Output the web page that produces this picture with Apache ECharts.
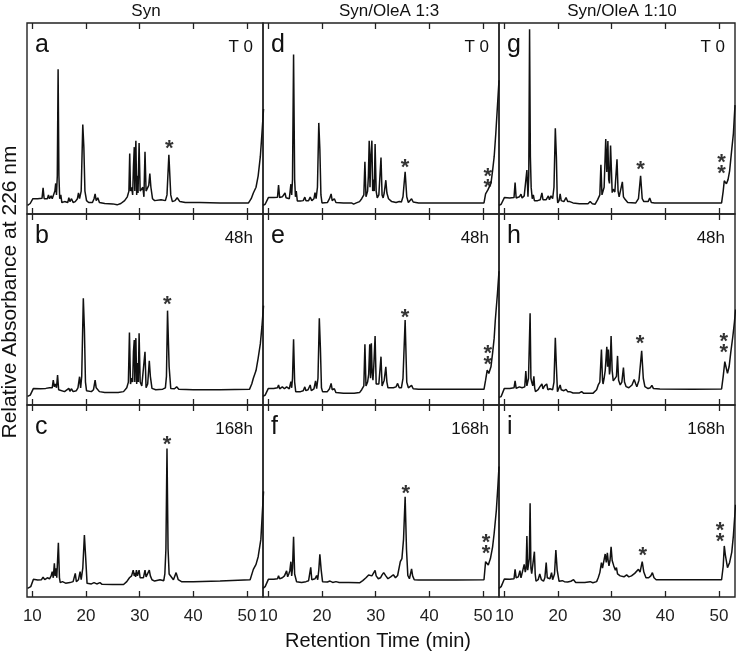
<!DOCTYPE html>
<html>
<head>
<meta charset="utf-8">
<title>Chromatograms</title>
<script src="https://cdn.jsdelivr.net/npm/echarts@6/dist/echarts.min.js"></script>
<style>
  html, body { margin: 0; padding: 0; background: #fff; }
  #main { width: 736px; height: 655px; }
</style>
</head>
<body>
<div id="main"></div>
<script>
// retention time (min) vs relative absorbance (% of panel height)
const traceA = [[9.1,4.5],[9.6,5.5],[10.1,8],[11,8],[11.8,8.2],[12.0,13.7],[12.2,8],[12.8,8],[13.0,10],[13.2,8],[13.5,9.5],[13.7,8],[14.0,9],[14.2,12],[14.35,16],[14.5,10],[14.65,20],[14.8,75.8],[14.95,20],[15.1,8],[15.3,10],[15.5,6],[16.0,6.5],[16.6,6],[16.8,8.5],[17.0,6.5],[17.3,8],[17.6,6],[18.0,6.5],[18.4,8],[18.6,11],[18.8,8],[19.1,12],[19.4,46.8],[19.6,35],[19.8,12],[20.1,7],[20.5,6],[21.2,6],[21.5,8],[21.7,10.5],[21.9,7],[22.2,8.5],[22.5,6],[23.5,5.5],[25,5.3],[25.8,4.8],[26.5,5.5],[27.2,7],[27.7,9],[28.0,12],[28.15,31.7],[28.3,12],[28.5,14],[28.7,10],[28.85,25],[29.0,35],[29.1,12],[29.2,30],[29.3,38.4],[29.45,10],[29.55,20],[29.7,11],[29.9,37.2],[30.1,12],[30.3,11],[30.6,14],[30.8,9],[31.0,32.6],[31.2,12],[31.5,11],[31.7,15],[31.9,21.2],[32.1,14],[32.4,8],[32.8,7],[34.0,7.5],[34.8,7],[35.1,10],[35.45,31],[35.8,10],[36.1,6.5],[36.6,7],[37.0,8.5],[37.2,9],[37.5,6.5],[38.5,6],[40.5,6],[40.8,6.5],[41.2,6],[45,5.8],[50.3,5.8],[50.8,8],[51.2,11],[51.7,14],[52.1,20],[52.5,30],[52.8,42],[53.1,55]];
const traceB = [[9.1,4.5],[9.6,5.2],[10.2,8.7],[11.5,8.5],[12.5,8.7],[13.2,9],[13.5,10],[13.7,9],[13.9,13],[14.1,9.5],[14.3,11],[14.5,9],[14.7,15.7],[14.9,8],[15.2,7],[16.0,7],[16.8,8.7],[17.0,7.2],[17.3,8.5],[17.6,7],[18.2,7.5],[18.5,9],[18.8,14.8],[19.0,9],[19.2,15],[19.5,55.9],[19.7,40],[19.9,12],[20.1,7.5],[21.0,7],[21.4,8],[21.7,13],[21.9,9],[22.2,10],[22.5,7],[23.5,6.6],[26,6.6],[27,7],[27.6,9],[27.9,12],[28.1,37.9],[28.3,11],[28.5,14],[28.7,12],[28.85,28],[29.0,34],[29.1,12],[29.2,30],[29.3,35],[29.45,11],[29.6,22],[29.75,12],[29.9,37.5],[30.1,12],[30.4,10],[30.7,11],[31.0,27.9],[31.2,9],[31.5,11],[31.8,23.2],[32.0,15],[32.3,8.7],[33,8],[34.3,8.3],[34.8,9],[35.0,15],[35.2,49.4],[35.5,20],[35.8,8.7],[36.5,8.5],[36.9,9.5],[37.3,8.2],[40,8],[45,8],[50.5,8.3],[50.9,11],[51.2,14],[51.7,18],[52.1,24.6],[52.5,32],[52.8,41],[53.1,52]];
const traceC = [[9.1,4.5],[9.7,5.4],[10.2,9.2],[11.0,8.9],[11.7,9],[12.0,10.4],[12.3,9],[12.8,10],[13.2,9.5],[13.5,11],[13.7,13.2],[13.9,10],[14.1,17.5],[14.25,11],[14.4,15],[14.55,10],[14.85,28.3],[15.05,10],[15.2,7.5],[15.6,8],[16.2,7.2],[17.0,7.5],[17.6,8],[18.0,12.3],[18.2,8],[18.4,8],[18.6,9],[18.9,13.2],[19.1,9],[19.4,15],[19.7,32.3],[19.95,20],[20.2,7.1],[21.0,6.8],[21.5,7.5],[22.0,6.8],[22.6,7.5],[23.0,6.6],[25,6.5],[27,6.5],[27.6,8],[28.1,10],[28.5,11],[28.8,14],[29.0,11],[29.1,12.5],[29.25,10.5],[29.4,14],[29.6,11],[29.9,14],[30.1,10],[30.3,9],[30.7,10],[31.0,14],[31.2,10.5],[31.5,11],[31.8,14],[32.0,11],[32.3,9],[32.8,8.3],[33.8,9],[34.5,8.5],[34.7,12],[34.9,25],[35.1,77.4],[35.3,25],[35.5,12],[35.8,11],[36.3,9],[36.8,12.7],[37.2,9],[37.8,8],[40,8],[45,8.3],[50.6,9],[51.2,14.4],[51.7,17],[52.1,21],[52.6,30],[52.9,45],[53.1,55]];
const traceD = [[9.0,4.5],[9.4,5.1],[10.0,8.6],[11.0,8.6],[11.7,8.8],[11.9,15.1],[12.1,8.6],[12.6,9],[13.1,11],[13.3,8.5],[13.6,9.5],[13.9,8],[14.2,15.6],[14.35,10],[14.5,18],[14.7,83.5],[14.9,18],[15.05,9],[15.2,12],[15.4,6.8],[16.0,6.8],[16.5,7],[16.8,8.8],[17.0,7],[17.5,7],[17.8,8.8],[18.1,7],[18.5,8],[18.7,11.2],[18.9,8],[19.15,14],[19.4,47.7],[19.6,34],[19.8,10],[20.0,5.8],[21.0,6],[21.4,8],[21.7,10.5],[21.9,7],[22.3,8],[22.6,6],[24,5.8],[25.5,5.8],[25.9,5.2],[26.4,5.8],[27.0,6.5],[27.4,8],[27.8,10],[28.0,27.4],[28.2,9],[28.5,12],[28.65,20],[28.8,38.4],[28.95,14],[29.1,30],[29.3,38.4],[29.45,12],[29.6,18],[29.75,12],[29.9,36.7],[30.1,12],[30.3,8.5],[30.6,10],[31.0,29.6],[31.2,10],[31.4,8.4],[31.6,11],[31.9,17.7],[32.1,11],[32.4,8],[33,6.5],[33.8,6],[34.4,6.5],[34.8,6.3],[35.1,9],[35.5,22.1],[35.8,9],[36.1,6],[36.4,6.5],[36.7,8],[37.0,6.3],[38,5.8],[40,5.8],[45,5.8],[50.2,5.8],[50.5,10.5],[50.9,12.5],[51.2,13],[51.5,16],[51.8,22.6],[52.1,30],[52.4,42],[52.7,56],[53.0,70]];
const traceE = [[9.0,4.5],[9.4,5.2],[10.0,8.7],[11.0,8.6],[11.7,9],[11.9,10.5],[12.1,8.5],[12.6,9.5],[13.0,8.5],[13.4,9.5],[13.7,10.5],[13.9,8.5],[14.2,12.2],[14.35,9],[14.5,14],[14.7,34.4],[14.9,12],[15.1,7],[15.4,8],[16.0,7],[16.5,7.5],[16.8,9.5],[17.0,7.5],[17.4,8],[17.8,10.5],[18.0,7.5],[18.5,8.5],[18.8,12.6],[19.0,8.5],[19.25,14],[19.5,45.4],[19.7,30],[19.9,9],[20.1,7],[21.0,7],[21.4,8.5],[21.7,11.3],[21.9,8],[22.3,8.5],[22.6,6.5],[24,6.1],[26,6.1],[27,6.5],[27.4,8],[27.8,10],[28.0,31.8],[28.2,10],[28.5,12],[28.7,16],[28.9,31.8],[29.05,14],[29.2,32.3],[29.35,17],[29.5,13],[29.65,20],[29.9,36.1],[30.1,11],[30.3,10],[30.6,11],[31.0,25.3],[31.2,10],[31.4,11],[31.6,13],[31.9,20],[32.1,12],[32.3,9],[33.3,9],[33.8,9.5],[34.1,11.3],[34.4,9],[34.8,9],[35.1,14],[35.5,44.5],[35.8,12],[36.1,9],[36.4,9],[36.7,10.3],[37.0,8.5],[38,8.2],[45,8.2],[50.2,8.2],[50.5,13],[50.8,18.3],[51.1,16.5],[51.5,20],[51.8,27],[52.1,35],[52.3,44],[52.7,58],[53.0,70]];
const traceF = [[9.0,4.5],[9.4,5.4],[10.0,9.2],[11.0,9.2],[11.7,9.5],[11.9,11],[12.1,9.5],[12.6,10],[13.0,11],[13.4,13.6],[13.6,10.5],[13.8,12],[14.0,13.6],[14.2,18.4],[14.35,11],[14.5,15],[14.7,31.4],[14.9,12],[15.1,11.5],[15.25,8],[15.6,8],[16.2,7.6],[17.0,8],[17.5,8.5],[17.9,15.4],[18.1,9],[18.4,8],[18.7,9.5],[19.0,11.2],[19.2,9],[19.4,14],[19.6,22.2],[19.85,14],[20.1,8],[21.0,7.8],[21.5,8.3],[22.0,7.6],[22.6,8],[23.2,7.6],[25,7.6],[27.0,7.4],[27.6,8.5],[28.2,10],[28.7,11.5],[29.0,12.5],[29.3,11],[29.6,11.8],[29.9,13.9],[30.1,11],[30.5,9.5],[30.9,10],[31.2,11.5],[31.5,12.7],[31.9,11],[32.3,9.5],[32.8,10.5],[33.3,11.6],[33.7,10],[34.1,11.2],[34.4,12],[34.6,18.4],[34.9,20],[35.2,30],[35.5,52.2],[35.75,25],[36.0,11.2],[36.3,9.5],[36.5,10],[36.7,14.6],[36.9,11],[37.2,9],[38,8.9],[45,8.9],[50.2,9],[50.5,18.4],[50.7,17.5],[51.0,16.7],[51.4,20],[51.8,26],[52.1,33.2],[52.5,45],[52.8,58],[53.0,68]];
const traceG = [[9.0,4.5],[9.4,5.1],[10.0,8.6],[11.0,8.4],[11.8,8.6],[12.0,16.5],[12.2,8.4],[12.8,9],[13.1,10.4],[13.3,8.4],[13.7,9.5],[14.0,10],[14.2,23],[14.4,9],[14.55,20],[14.7,96.7],[14.85,30],[15.0,13.8],[15.2,8],[15.4,10],[15.6,7],[16.2,7],[16.7,7.5],[17.0,11],[17.2,7.5],[17.8,7.5],[18.2,9.5],[18.4,7.5],[18.7,9.5],[19.0,8],[19.25,14],[19.5,44.9],[19.7,30],[19.85,9],[19.95,5.8],[20.2,7],[20.4,10.5],[20.6,7],[21.1,6.5],[21.5,8.6],[21.8,6.5],[22.2,6.5],[22.5,7.4],[22.8,5.8],[24,5.4],[25.6,5.4],[26.0,6.5],[26.4,5.4],[26.9,5.1],[27.4,7.5],[27.8,10],[28.0,25.8],[28.2,10],[28.4,11],[28.6,14],[28.9,39.3],[29.1,22],[29.3,38.2],[29.45,18],[29.6,16],[29.8,35.9],[30.1,11.2],[30.3,13],[30.6,11.5],[31.0,28.7],[31.2,12],[31.4,9],[31.7,10],[32.0,16.8],[32.2,9],[32.5,7.7],[33,6],[34.5,5.8],[35.0,8],[35.4,20],[35.7,8],[36.0,6.5],[36.8,6.5],[37.1,8.4],[37.4,6],[38,5.8],[45,5.8],[50.5,5.8],[50.8,12],[51.0,17.4],[51.4,15.8],[51.7,18],[52.0,22.6],[52.4,34],[52.7,42.1],[53.0,57]];
const traceH = [[9.0,4],[9.4,4.4],[10.0,8.7],[11.0,8.7],[11.8,9],[12.0,12.6],[12.2,8.7],[12.8,9.5],[13.1,10.5],[13.3,9],[13.6,10],[13.8,9.5],[14.0,17.8],[14.2,10],[14.3,9.5],[14.5,14],[14.8,48],[14.95,14],[15.1,12],[15.3,10],[15.5,15],[15.65,9],[15.8,7],[16.3,8],[16.6,9.5],[17.0,11],[17.2,8.5],[17.5,10],[17.9,11],[18.1,8],[18.5,8.5],[18.8,9.5],[19.0,8],[19.25,12],[19.5,35.2],[19.7,20],[19.9,7],[20.2,8],[20.4,10.5],[20.6,8],[21.1,7.5],[21.5,8.2],[21.8,7],[22.2,7],[22.5,7.3],[22.8,6.3],[24.0,6.3],[24.4,7],[24.8,6.1],[26.5,6.1],[27.2,8],[27.5,10.5],[27.8,12],[28.1,29.1],[28.3,13],[28.4,11],[28.6,14],[28.8,18],[29.1,30.5],[29.25,20],[29.4,29],[29.6,16],[29.7,18],[29.9,36.1],[30.1,18],[30.3,12.6],[30.6,13],[30.9,15],[31.1,25.7],[31.3,13],[31.6,10.5],[31.9,12],[32.2,19.6],[32.4,12],[32.7,9.6],[33.2,9],[33.8,10.5],[34.2,13.4],[34.5,11],[34.7,9.6],[35.1,13],[35.6,28.4],[35.9,14],[36.2,9.6],[36.8,8.6],[37.2,9],[37.5,10.3],[37.8,8.6],[39,8.4],[45,8.2],[50.5,8.4],[50.8,15],[51.1,22.7],[51.4,19],[51.6,16.6],[51.9,20],[52.2,27.3],[52.6,36],[52.9,43.5],[53.1,50]];
const traceI = [[9.0,4.5],[9.4,5.4],[10.0,9.4],[11.0,9.2],[11.8,9.5],[12.0,14.4],[12.2,10],[12.4,10],[12.6,10.5],[12.9,13.7],[13.1,10],[13.4,11],[13.7,17],[13.9,13],[14.05,15],[14.2,31.8],[14.35,14],[14.5,13],[14.65,20],[14.8,48.8],[14.95,15],[15.1,12.2],[15.35,13],[15.6,23.6],[15.75,12],[15.9,8.2],[16.3,9],[16.6,12],[16.9,9],[17.3,8.2],[17.55,10],[17.8,17.9],[18.0,10],[18.1,9],[18.5,9.5],[18.8,12.7],[19.0,9],[19.1,8.2],[19.35,12],[19.6,24.5],[19.85,14],[20.2,8.2],[20.8,8.5],[21.2,8],[21.5,9],[21.8,7.8],[22.4,8.2],[22.9,9],[23.3,7.6],[25,7.6],[26.0,8],[26.5,7.4],[27.2,8],[27.5,10],[27.8,12.7],[28.1,17.9],[28.3,15],[28.5,18],[28.8,22.4],[29.0,18],[29.2,23],[29.35,19],[29.5,16.2],[29.7,19],[29.9,26.2],[30.1,19],[30.4,16.2],[30.7,14],[30.9,15.3],[31.1,12],[31.4,12.7],[31.6,11],[31.9,11],[32.3,10.5],[32.8,11.5],[33.2,10.5],[33.7,11],[34.0,10.5],[34.3,12.3],[34.6,11.5],[35.0,14.4],[35.3,13],[35.7,18.4],[36.0,13],[36.4,10],[36.9,10],[37.3,11],[37.6,12.7],[37.9,10],[38.3,9],[40,9],[45,9],[50.5,9],[50.8,16],[51.0,26.6],[51.2,22],[51.6,15.3],[52.0,18],[52.4,23.4],[52.7,32],[53.0,44],[53.1,48]];

// panels in column order: a b c | d e f | g h i
const traces = [traceA, traceB, traceC, traceD, traceE, traceF, traceG, traceH, traceI];
const panelLetters = ['a', 'b', 'c', 'd', 'e', 'f', 'g', 'h', 'i'];
const timeLabels = ['T 0', '48h', '168h'];
const columnTitles = ['Syn', 'Syn/OleA 1:3', 'Syn/OleA 1:10'];
const tickValues = [10, 20, 30, 40, 50];

// asterisk (*) and double asterisk (**) marks, [time, height]
const singleStars = [[35.55, 36.8], [35.15, 55], [35.1, 81.8], [35.5, 26.5], [35.5, 48.3], [35.6, 56.1], [35.4, 25.6], [35.3, 34.4], [35.8, 24]];
const doubleStars = [null, null, null, [50.9, 19.1], [50.9, 26.4], [50.6, 28], [50.5, 26.7], [50.9, 32.7], [50.2, 34.2]];

const colLeft = [27, 263, 499];
const rowTop = [23, 214, 405];
const rowHeight = [191, 191, 192];
const panelW = 236;
const FONT = "'Liberation Sans', Arial, Helvetica, sans-serif";
const INK = '#111';

let grids = [], xAxes = [], yAxes = [], series = [], graphics = [];

for (let k = 0; k < 9; k++) {
  const col = Math.floor(k / 3);
  const row = k % 3;
  const left = colLeft[col], top = rowTop[row], h = rowHeight[row];

  grids.push({
    left: left, top: top, width: panelW, height: h,
    show: true, borderColor: '#222', borderWidth: 1.4, backgroundColor: 'transparent'
  });

  // bottom and top axes, both with inward ticks
  ['bottom', 'top'].forEach(function (pos) {
    xAxes.push({
      gridIndex: k, type: 'value', min: 9, max: 53, position: pos,
      axisLine: { show: false },
      axisTick: { show: true, inside: true, length: 6, customValues: tickValues, lineStyle: { color: '#222', width: 1.3 } },
      axisLabel: {
        show: pos === 'bottom' && row === 2, customValues: tickValues,
        fontSize: 17, color: '#222', fontFamily: FONT, margin: 11
      },
      splitLine: { show: false }
    });
  });
  yAxes.push({ gridIndex: k, type: 'value', min: 0, max: 100, show: false });

  series.push({
    type: 'line', xAxisIndex: 2 * k, yAxisIndex: k,
    data: traces[k], showSymbol: false, clip: true,
    lineStyle: { color: INK, width: 1.5 }
  });

  // star labels
  const stars = [{ value: singleStars[k], label: { formatter: '*' } }];
  if (doubleStars[k]) stars.push({ value: doubleStars[k], label: { formatter: '*\n*', lineHeight: 11 } });
  series.push({
    type: 'scatter', xAxisIndex: 2 * k, yAxisIndex: k,
    data: stars, symbolSize: 1, itemStyle: { color: 'transparent' },
    label: { show: true, position: 'inside', fontSize: 22, fontWeight: 'bold', color: '#000', fontFamily: FONT, offset: [0, 5] },
    silent: true
  });

  graphics.push({
    type: 'text', x: left + 8, y: top + 22,
    style: { text: panelLetters[k], font: '25px ' + FONT, fill: INK, align: 'left', verticalAlign: 'middle' }
  });
  graphics.push({
    type: 'text', x: left + panelW - 10, y: top + 24,
    style: { text: timeLabels[row], font: '17px ' + FONT, fill: INK, align: 'right', verticalAlign: 'middle' }
  });
}

const titleX = [146, 389, 622];
columnTitles.forEach(function (t, i) {
  graphics.push({
    type: 'text', x: titleX[i], y: 11,
    style: { text: t, font: '17px ' + FONT, fill: INK, align: 'center', verticalAlign: 'middle' }
  });
});

graphics.push({
  type: 'text', x: 378, y: 641,
  style: { text: 'Retention Time (min)', font: '20px ' + FONT, fill: INK, align: 'center', verticalAlign: 'middle' }
});
graphics.push({
  type: 'text', x: 10, y: 292, rotation: Math.PI / 2,
  style: { text: 'Relative Absorbance at 226 nm', font: '21px ' + FONT, fill: INK, align: 'center', verticalAlign: 'middle' }
});

const chart = echarts.init(document.getElementById('main'));
chart.setOption({
  animation: false,
  backgroundColor: '#fff',
  grid: grids,
  xAxis: xAxes,
  yAxis: yAxes,
  series: series,
  graphic: graphics
});
</script>
</body>
</html>
